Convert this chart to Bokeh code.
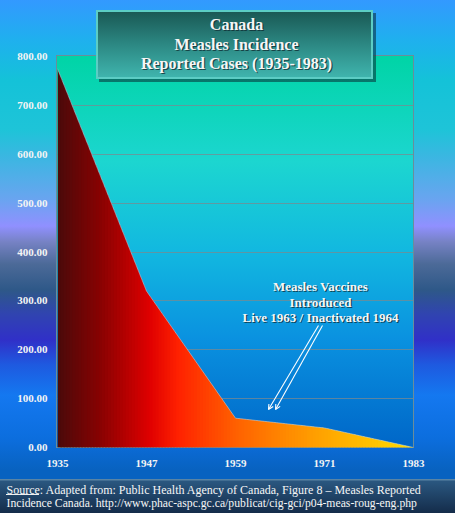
import numpy as np
from bokeh.plotting import figure
from bokeh.models import FixedTicker, PrintfTickFormatter, Label, Arrow, OpenHead
from bokeh.embed import file_html
from bokeh.resources import INLINE

# ---------------- data ----------------
YEARS = [1935, 1947, 1959, 1971, 1983]
CASES = [775, 320, 60, 40, 0]
X_TICKS = [1935, 1947, 1959, 1971, 1983]
Y_TICKS = [0, 100, 200, 300, 400, 500, 600, 700, 800]
TITLE_LINES = ["Canada", "Measles Incidence", "Reported Cases (1935-1983)"]
NOTE_LINES = ["Measles Vaccines", "Introduced", "Live 1963 / Inactivated 1964"]
VACCINE_YEARS = [1963, 1964]
SOURCE_LINES = [
    "Source: Adapted from: Public Health Agency of Canada, Figure 8 \u2013 Measles Reported",
    "Incidence Canada. http://www.phac-aspc.gc.ca/publicat/cig-gci/p04-meas-roug-eng.php",
]

# ---------------- layout ----------------
W, H = 455, 513
FL, FR, FT, FB = 57, 42, 0, 66           # frame borders (px)
FW = W - FL - FR
PLOT_TOP, PLOT_BOTTOM = 56, 447          # pixel rows of 800 and 0
X0, X1 = YEARS[0], YEARS[-1]
PX_PER_Y = (PLOT_BOTTOM - PLOT_TOP) / 800.0
Y_TOP = (PLOT_BOTTOM - FT) / PX_PER_Y


def dx(px):  # pixel -> data x
    return X0 + (px - FL) * (X1 - X0) / FW


def dy(py):  # pixel (from top) -> data y
    return (PLOT_BOTTOM - py) / PX_PER_Y


p = figure(width=W, height=H, x_range=(X0, X1), y_range=(0, Y_TOP),
           output_backend="svg", toolbar_location=None,
           min_border_left=FL, min_border_right=FR,
           min_border_top=FT, min_border_bottom=FB)
p.background_fill_color = None
p.border_fill_color = None
p.outline_line_color = None

edge = "#6a8d9b"
layers = [
    # title box
    "linear-gradient(to bottom, #1a5955, #2c8883 50%, #3fb4ad) 98px 12px / 273px 65px no-repeat",
    "linear-gradient(#5ccdc4, #5ccdc4) 96px 10px / 277px 69px no-repeat",
    "linear-gradient(rgba(8,40,50,0.55), rgba(8,40,50,0.55)) 99px 13px / 277px 69px no-repeat",
    # underline of 'Source'
    "linear-gradient(#f0f0f0, #f0f0f0) 6px 494px / 33px 1px no-repeat",
    # frame edges
    f"linear-gradient({edge}, {edge}) 56px 55px / 358px 1px no-repeat",
    f"linear-gradient({edge}, {edge}) 56px 447px / 358px 1px no-repeat",
    f"linear-gradient({edge}, {edge}) 56px 55px / 1px 393px no-repeat",
    f"linear-gradient({edge}, {edge}) 413px 55px / 1px 393px no-repeat",
    # plot area gradient
    "linear-gradient(to bottom, #00d4a6 0%, #1cd6d0 27%, #12b8e0 50%, #0a92e0 72%, #0066c8 100%) 57px 56px / 356px 391px no-repeat",
    # source box
    "linear-gradient(to bottom, #5a84a4 0px, #5a84a4 1px, #2a5780 2px, #142c4a 100%) 0px 479px / 100% 34px no-repeat",
    # page gradient
    "linear-gradient(to bottom, #3399ff 0px, #1fb0ee 40px, #14c2d8 80px, #1ec4d8 130px, #3cb6e2 158px, "
    "#6aa4f0 200px, #9090ff 226px, #7682c4 242px, #4c6a98 264px, #2e5888 290px, #3044b0 314px, "
    "#3030c8 340px, #1e5ae0 365px, #1478f0 395px, #0c6ede 438px, #0862c0 470px, #0862c0 513px)",
]
p.styles = {"background": ", ".join(layers)}

# ---------------- axes ----------------
for ax in (p.xaxis, p.yaxis):
    ax.axis_line_color = None
    ax.major_tick_line_color = None
    ax.minor_tick_line_color = None
    ax.major_tick_out = 0
    ax.major_tick_in = 0
    ax.minor_tick_out = 0
    ax.major_label_text_font = "Liberation Serif"
    ax.major_label_text_font_style = "bold"
    ax.major_label_text_font_size = "11px"
    ax.major_label_text_color = "#f4f4f4"
p.xaxis.ticker = FixedTicker(ticks=X_TICKS)
p.yaxis.ticker = FixedTicker(ticks=Y_TICKS)
p.yaxis.formatter = PrintfTickFormatter(format="%.2f")
p.xaxis.major_label_standoff = 12
p.yaxis.major_label_standoff = 10
p.xgrid.grid_line_color = None
p.ygrid.ticker = FixedTicker(ticks=Y_TICKS[1:-1])
p.ygrid.grid_line_color = "#7a8a90"
p.ygrid.grid_line_alpha = 0.75

# ---------------- area with horizontal colour gradient ----------------
stops_f = [0.0, 0.12, 0.26, 0.34, 0.50, 0.65, 0.77, 0.91, 1.0]
stops_c = ["#4a0a0a", "#880202", "#e00000", "#ff2200", "#ff6000", "#ff8c00", "#ffaa00", "#ffc800", "#ffdd00"]
rgb = np.array([[int(c[i:i + 2], 16) for i in (1, 3, 5)] for c in stops_c], dtype=float)

N = 120
edges = np.linspace(X0, X1, N + 1)
step = edges[1] - edges[0]
xs, ys, cols = [], [], []
for i in range(N):
    xa = edges[i]
    xb = min(edges[i + 1] + 0.6 * step, X1)
    top_x = [xa] + [v for v in YEARS if xa < v < xb] + [xb]
    top_y = list(np.interp(top_x, YEARS, CASES))
    xs.append([xa, xb] + top_x[::-1])
    ys.append([0, 0] + top_y[::-1])
    f = (i + 0.5) / N
    r, g, b = (np.interp(f, stops_f, rgb[:, k]) for k in range(3))
    cols.append("#%02x%02x%02x" % (int(round(r)), int(round(g)), int(round(b))))
p.patches(xs=xs, ys=ys, fill_color=cols, line_color=None)
p.line(YEARS, CASES, line_color="#b8d4e8", line_width=1, line_alpha=0.55)


# ---------------- texts ----------------
def add_text(x, y, text, size, bold=True, align="center", shadow=True, place=None):
    items = []
    if shadow:
        items.append(Label(x=x, y=y, text=text, text_font="Liberation Serif",
                           text_font_style="bold" if bold else "normal",
                           text_font_size=size, text_color="#0e2a30", text_alpha=0.75,
                           text_align=align, text_baseline="middle",
                           x_offset=1.3, y_offset=-1.3))
    items.append(Label(x=x, y=y, text=text, text_font="Liberation Serif",
                       text_font_style="bold" if bold else "normal",
                       text_font_size=size, text_color="#f6f6f6",
                       text_align=align, text_baseline="middle"))
    for it in items:
        if place is None:
            p.add_layout(it)
        else:
            p.add_layout(it, place)


for i, t in enumerate(TITLE_LINES):
    add_text(dx(236), dy(24 + 19.5 * i), t, "16px")

for i, t in enumerate(NOTE_LINES):
    add_text(dx(320), dy(286 + 15.5 * i), t, "13px")

source_sizes = ["12px", "11.7px"]
for i, t in enumerate(SOURCE_LINES):
    add_text(dx(6), dy(489.5 + 13.5 * i), t, source_sizes[i], bold=False, align="left",
             shadow=False, place="below")

# arrows pointing to the vaccine years
starts_px = [318, 322]
end_off = [0.45, 0.4]
for sx, yr, off in zip(starts_px, VACCINE_YEARS, end_off):
    p.add_layout(Arrow(end=OpenHead(size=5, line_color="white", line_width=1.1),
                       x_start=dx(sx), y_start=dy(325), x_end=yr + off, y_end=dy(409),
                       line_color="white", line_width=1.1))

open("out.html", "w").write(file_html(p, INLINE))
